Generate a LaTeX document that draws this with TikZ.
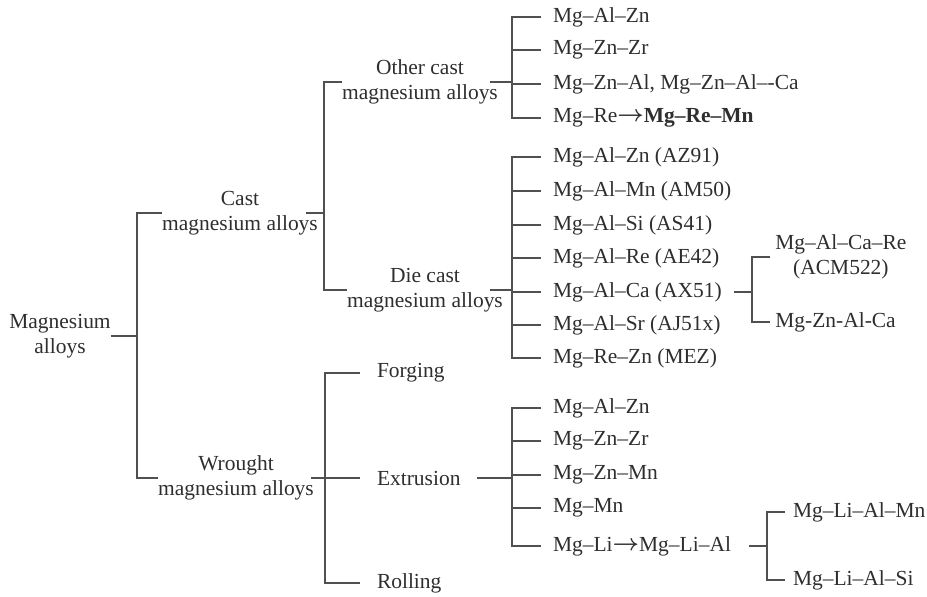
\documentclass[tikz,border=0pt]{standalone}
\usepackage{fontspec}
\usepackage{bm}
\setmainfont{Liberation Serif}
\usetikzlibrary{calc}
\definecolor{txt}{HTML}{2E2E2E}
\definecolor{ln}{HTML}{505050}
\newcommand{\toarr}{\raisebox{0.5pt}{$\bm{\rightarrow}$}}
\begin{document}
\begin{tikzpicture}[x=0.75pt,y=-0.75pt,
  every node/.style={font=\fontsize{16.1pt}{18.5pt}\selectfont, text=txt, inner sep=0pt, outer sep=0pt},
  grp/.style={align=center},
  leaf/.style={anchor=west, outer xsep=9pt},
  midleaf/.style={anchor=west, outer xsep=12.75pt},
  subleaf/.style={anchor=west, outer xsep=#1},
  conn/.style={draw=ln, line width=1.1pt}]
\useasboundingbox (0,0) rectangle (927,596);

% level 0 and 1
\node[grp] (mg) at (60,336) {Magnesium\\alloys};
\node[grp] (cast) at (240,213) {Cast\\magnesium alloys};
\node[grp] (wrought) at (236,478) {Wrought\\magnesium alloys};

% level 2
\node[grp] (other) at (420,82) {Other cast\\magnesium alloys};
\node[grp] (die) at (425,290) {Die cast\\magnesium alloys};
\node[midleaf] (forg) at (360,373) {Forging};
\node[midleaf] (extr) at (360,478) {Extrusion};
\node[midleaf] (roll) at (360,583) {Rolling};

% other cast leaves
\node[leaf] (o1) at (541,17) {Mg–Al–Zn};
\node[leaf] (o2) at (541,50) {Mg–Zn–Zr};
\node[leaf] (o3) at (541,84) {Mg–Zn–Al, Mg–Zn–Al–-Ca};
\node[leaf] (o4) at (541,118) {Mg–Re\toarr\textbf{Mg–Re–Mn}};

% die cast leaves
\node[leaf] (d1) at (541,157) {Mg–Al–Zn (AZ91)};
\node[leaf] (d2) at (541,191) {Mg–Al–Mn (AM50)};
\node[leaf] (d3) at (541,225) {Mg–Al–Si (AS41)};
\node[leaf] (d4) at (541,258) {Mg–Al–Re (AE42)};
\node[leaf] (d5) at (541,292) {Mg–Al–Ca (AX51)};
\node[leaf] (d6) at (541,325) {Mg–Al–Sr (AJ51x)};
\node[leaf] (d7) at (541,358) {Mg–Re–Zn (MEZ)};

% AX51 branch
\node[subleaf=4pt, align=center] (acmre) at (770,257) {Mg–Al–Ca–Re\\(ACM522)};
\node[subleaf=4pt] (znalca) at (770,322) {Mg-Zn-Al-Ca};

% extrusion leaves
\node[leaf] (e1) at (541,408) {Mg–Al–Zn};
\node[leaf] (e2) at (541,441) {Mg–Zn–Zr};
\node[leaf] (e3) at (541,475) {Mg–Zn–Mn};
\node[leaf] (e4) at (541,508) {Mg–Mn};
\node[leaf] (e5) at (541,546) {Mg–Li\toarr Mg–Li–Al};

% Mg-Li branch
\node[subleaf=6pt] (li1) at (785,512) {Mg–Li–Al–Mn};
\node[subleaf=6pt] (li2) at (785,580) {Mg–Li–Al–Si};

% junctions
\coordinate (jM) at (137,336);
\coordinate (jC) at (324,213);
\coordinate (jW) at (325,478);
\coordinate (jO) at (512,82);
\coordinate (jD) at (512,290);
\coordinate (jE) at (512,478);
\coordinate (jA) at (752,292);
\coordinate (jL) at (767,546);

% connectors
\draw[conn] (mg.east) -- (jM);
\draw[conn] (cast.west) -| (jM) |- (wrought.west);

\draw[conn] ($(cast.east)+(-12,0)$) -- (jC);
\draw[conn] (other.west) -| (jC) |- (die.west);

\draw[conn] ($(wrought.east)+(-3,0)$) -- (jW);
\draw[conn] (forg.west) -| (jW) |- (roll.west);
\draw[conn] (extr.west) -- (jW);

\draw[conn] ($(other.east)+(-8,0)$) -- (jO);
\draw[conn] (o1.west) -| (jO) |- (o4.west);
\draw[conn] (o2.west) -- (o2.west -| jO);
\draw[conn] (o3.west) -- (o3.west -| jO);

\draw[conn] ($(die.east)+(-13,0)$) -- (jD);
\draw[conn] (d1.west) -| (jD) |- (d7.west);
\foreach \n in {d2,d3,d4,d5,d6} \draw[conn] (\n.west) -- (\n.west -| jD);

\draw[conn] (d5.east) -- (jA);
\draw[conn] (acmre.west) -| (jA) |- (znalca.west);

\draw[conn] (extr.east) -- (jE);
\draw[conn] (e1.west) -| (jE) |- (e5.west);
\foreach \n in {e2,e3,e4} \draw[conn] (\n.west) -- (\n.west -| jE);

\draw[conn] ($(e5.east)+(6,0)$) -- (jL);
\draw[conn] (li1.west) -| (jL) |- (li2.west);
\end{tikzpicture}
\end{document}
